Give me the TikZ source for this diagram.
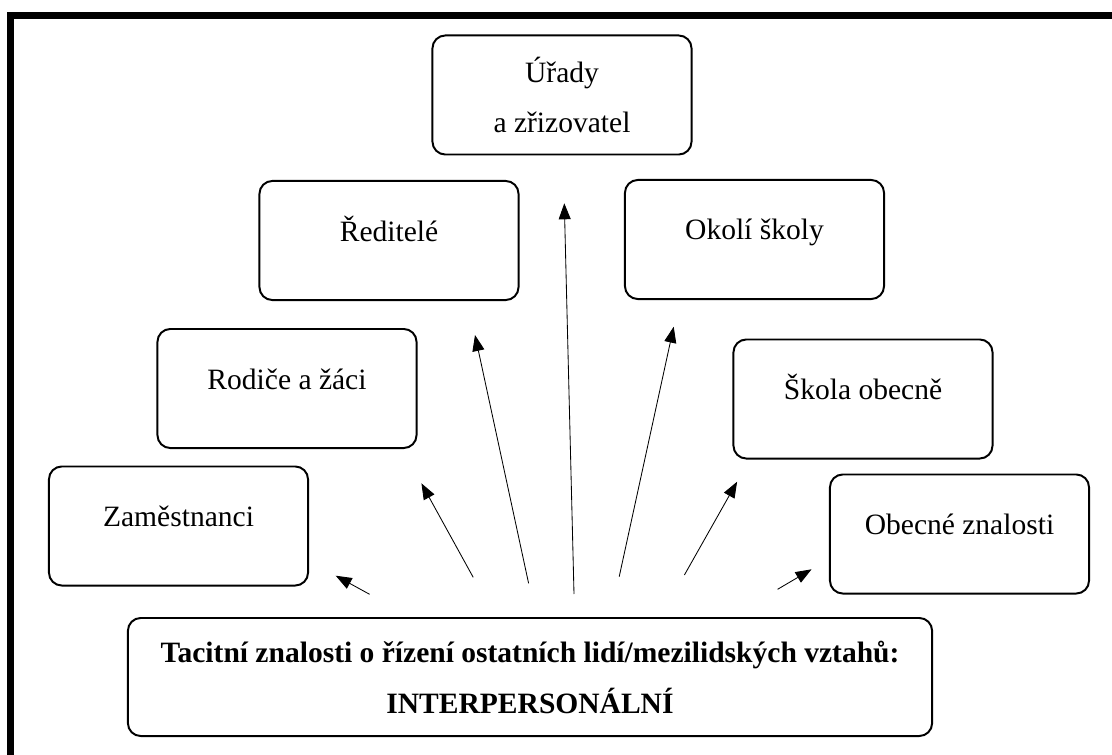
\documentclass[tikz,border=0pt]{standalone}
\usepackage{fontspec}
\setmainfont{Liberation Serif}
\usetikzlibrary{
	positioning,
	arrows.meta
}

\begin{document}
\begin{tikzpicture}[
		x=0.025cm, y=-0.025cm,
		font=\fontsize{21pt}{34.9pt}\selectfont,
		box/.style={draw, line width=1.4pt, rounded corners=0.32cm, inner sep=0pt,
			minimum width=6.475cm, text height=1.5cm, text depth=1.475cm},
		arr/.style={-{Triangle[length=0.4cm, width=0.3cm]}, line width=0.6pt}
		]
		
		\useasboundingbox (0,0) rectangle (1112,755);
		\draw[line width=0.16cm] (10.3,755) |- (1112,15.5);
		
		\node[draw, line width=1.4pt, rounded corners=0.32cm, minimum width=6.475cm,
			minimum height=2.975cm, align=center] (urady) at (562,95) {Úřady \\ a zřizovatel};
		\node[box] (reditele) at (389,240.5) {Ředitelé};
		\node[box] (okoli) at (754.5,239.5) {Okolí školy};
		\node[box] (rodice) at (287,388.5) {Rodiče a žáci};
		\node[box] (skola) at (863,399) {Škola obecně};
		\node[box] (zam) at (178.5,526) {Zaměstnanci};
		\node[box] (obecne) at (959.5,534) {Obecné znalosti};
		
		\node[draw, line width=1.4pt, rounded corners=0.32cm, minimum width=20.1cm,
			minimum height=2.95cm, align=center,
			font=\fontsize{21pt}{36.3pt}\selectfont\bfseries] (tacit) at (530,677)
			{Tacitní znalosti o řízení ostatních lidí/mezilidských vztahů: \\ INTERPERSONÁLNÍ};
		
		\coordinate (from-zam) at (369.6,594.3);
		\coordinate (to-zam) at (335.7,575.7);
		\coordinate (from-rodice) at (473.2,577.3);
		\coordinate (to-rodice) at (421.4,483.3);
		\coordinate (from-reditele) at (528.6,583.3);
		\coordinate (to-reditele) at (475,335);
		\coordinate (from-urady) at (574,594);
		\coordinate (to-urady) at (564.3,203.3);
		\coordinate (from-okoli) at (619.2,576.7);
		\coordinate (to-okoli) at (673.7,326.7);
		\coordinate (from-skola) at (684.4,575);
		\coordinate (to-skola) at (737.1,481.7);
		\coordinate (from-obecne) at (777.6,589.3);
		\coordinate (to-obecne) at (811.6,569.3);
		
		\path (from-zam) edge[arr] (to-zam);
		\path (from-rodice) edge[arr] (to-rodice);
		\path (from-reditele) edge[arr] (to-reditele);
		\path (from-urady) edge[arr] (to-urady);
		\path (from-okoli) edge[arr] (to-okoli);
		\path (from-skola) edge[arr] (to-skola);
		\path (from-obecne) edge[arr] (to-obecne);
		
	\end{tikzpicture}
\end{document}
